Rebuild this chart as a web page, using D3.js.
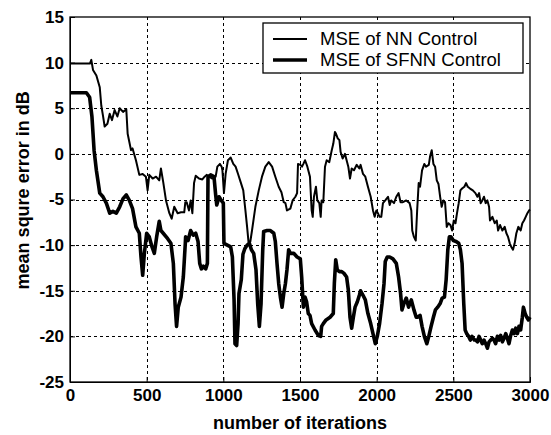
<!DOCTYPE html>
<html>
<head>
<meta charset="utf-8">
<script src="https://cdn.jsdelivr.net/npm/d3@7"></script>
<style>
  body { margin: 0; background: #fff; }
  text { font-family: "Liberation Sans", Arial, sans-serif; }
</style>
</head>
<body>
<svg width="551" height="435"></svg>
<script>
// values
var xTicks = [0, 500, 1000, 1500, 2000, 2500, 3000];
var yTicks = [-25, -20, -15, -10, -5, 0, 5, 10, 15];
var seriesNames = ['MSE of NN Control', 'MSE of SFNN Control'];

var nnIter = [0, 130, 139, 150, 172, 194, 204, 215, 226, 244, 259, 274, 291, 309, 324, 346, 367,
  376, 398, 408, 430, 452, 474, 495, 506, 517, 539, 561, 582, 593, 608, 626, 648, 663, 680, 702, 724, 745,
  752, 761, 776, 787, 798, 809, 820, 841, 863, 878, 891, 907, 928, 950, 961, 978, 989, 994, 1004, 1015, 1030, 1048, 1065, 1080, 1096, 1113, 1130,
  1144, 1155, 1165, 1176, 1187, 1209, 1231, 1252, 1274, 1296, 1318, 1339, 1361, 1379, 1394, 1405, 1415, 1437, 1452, 1470, 1481, 1487, 1502, 1513,
  1522, 1533, 1548, 1565, 1576, 1583, 1591, 1604, 1613, 1626, 1635, 1641, 1652, 1663, 1674, 1691, 1707, 1717, 1728, 1735, 1746, 1757, 1765, 1778, 1793, 1804, 1815, 1826, 1837, 1852, 1870, 1887,
  1895, 1911, 1926, 1943, 1961, 1976, 1987, 1998, 2008, 2019, 2030, 2041, 2056, 2074, 2085, 2095, 2113, 2128, 2143, 2156, 2171, 2193, 2215, 2226, 2232, 2243, 2255,
  2264, 2274, 2283, 2296, 2311, 2322, 2340, 2348, 2359, 2370, 2381, 2392, 2403, 2414, 2424, 2435, 2446, 2457, 2468, 2481, 2492, 2503, 2514, 2524, 2535, 2546, 2557, 2572, 2583, 2594, 2609, 2627, 2644,
  2657, 2668, 2678, 2689, 2700, 2711, 2722, 2733, 2739, 2755, 2770, 2783, 2792, 2805, 2820, 2835, 2846, 2857, 2868, 2878, 2889, 2900, 2911, 2924, 2939, 2950, 2961, 2972, 2983, 2994, 3000];
var nnMse = [9.9, 9.9, 10.3, 9.2, 8.6, 7.3, 5.3, 4.2, 3.0, 3.3, 4.4, 3.7, 4.8, 4.1, 5.0, 4.6, 4.9,
  2.2, 0.4, 0.6, -0.7, -2.3, -2.2, -2.5, -4.0, -2.3, -2.7, -2.5, -2.9, -1.6, -3.1, -5.1, -6.5, -7.1, -5.8, -6.5, -6.4, -6.4,
  -5.3, -5.3, -6.2, -5.1, -6.5, -3.2, -2.4, -2.7, -2.8, -2.5, -2.3, -2.5, -2.7, -2.5, -1.4, -1.1, -1.4, -1.8, -4.3, -2.2, -0.7, -0.4, -1.1, -1.4, -2.2, -3.1, -4.0,
  -6.2, -8.0, -9.8, -9.6, -8.4, -5.8, -4.0, -2.5, -1.4, -0.9, -1.4, -2.5, -3.6, -4.2, -5.3, -5.4, -6.2, -6.0, -5.1, -4.7, -4.3, -1.1, -1.2, -1.4,
  -1.1, -0.7, -1.4, -2.5, -6.2, -6.9, -4.7, -3.6, -5.1, -5.4, -6.9, -5.1, -5.3, -1.4, -0.7, -0.9, 0.4, 1.1, 2.4, 2.2, 1.7, 1.5, 0.2, -0.5, 0.0, -0.7, -1.4, -2.7, -1.6, -1.8, -1.2, -1.6,
  -1.2, -2.2, -2.5, -3.6, -4.7, -6.2, -6.9, -6.2, -6.5, -6.9, -6.9, -5.4, -5.1, -4.7, -5.6, -5.1, -5.4, -4.7, -4.3, -5.3, -5.3, -5.1, -5.4, -6.2, -8.4, -9.1, -9.5,
  -6.2, -3.2, -3.6, -1.8, -1.1, -1.4, -1.2, -0.3, 0.4, -1.1, -1.4, -2.9, -3.3, -4.7, -5.8, -5.1, -5.3, -8.0, -7.6, -7.8, -8.4, -7.3, -7.6, -6.5, -5.4, -4.0, -3.8, -3.6, -3.2, -3.6, -3.8, -4.0, -4.3,
  -4.7, -4.3, -5.4, -5.1, -4.7, -5.4, -5.1, -5.8, -7.3, -6.9, -7.6, -7.3, -8.4, -7.8, -8.4, -8.0, -8.7, -9.1, -9.8, -10.2, -10.5, -9.8, -8.7, -8.0, -8.4, -7.6, -7.3, -6.9, -6.5, -6.2, -6.1];

var sfnnIter = [0, 107, 128, 143, 157, 172, 194, 215, 237, 259, 280, 302, 324, 346, 367,
  387, 408, 430, 452, 463, 474, 485, 500, 517, 535, 550, 565, 582, 593, 608, 637, 658, 674, 685, 695, 706, 724, 739, 752,
  754, 770, 787, 804, 820, 835, 846, 857, 870, 885, 896, 900, 917, 939, 950, 957, 972, 987, 1000, 1004, 1026, 1048, 1059, 1070, 1076, 1087, 1096, 1102, 1117, 1128,
  1140, 1155, 1170, 1183, 1198, 1213, 1224, 1235, 1246, 1257, 1263, 1285, 1307, 1329, 1339, 1350, 1361, 1372, 1383, 1394, 1405, 1415, 1426, 1437, 1459, 1481, 1502,
  1511, 1522, 1533, 1543, 1554, 1565, 1576, 1598, 1620, 1635, 1641, 1652, 1670, 1696, 1717, 1724, 1733, 1743, 1757, 1772, 1787, 1804, 1815, 1826, 1837, 1848, 1859, 1874, 1887,
  1895, 1911, 1926, 1943, 1961, 1976, 1991, 2004, 2019, 2035, 2048, 2056, 2069, 2085, 2106, 2128, 2143, 2156, 2165, 2178, 2193, 2208, 2226, 2243, 2258,
  2268, 2283, 2296, 2311, 2327, 2340, 2355, 2370, 2383, 2398, 2414, 2427, 2442, 2453, 2464, 2474, 2485, 2500, 2518, 2535, 2546, 2557, 2568, 2577, 2587, 2600, 2611, 2622, 2637,
  2646, 2657, 2668, 2678, 2689, 2700, 2711, 2722, 2733, 2744, 2755, 2765, 2776, 2787, 2798, 2809, 2820, 2831, 2842, 2852, 2863, 2874, 2885, 2896, 2907, 2918, 2928, 2939, 2950, 2957, 2968, 2979, 2990, 3000];
var sfnnMse = [6.7, 6.7, 6.2, 4.1, 0.4, -1.8, -4.3, -4.7, -5.4, -6.5, -6.3, -6.5, -5.8, -4.9, -4.5,
  -5.1, -6.0, -8.0, -8.7, -11.3, -13.3, -10.9, -8.7, -9.1, -10.2, -10.9, -9.1, -7.4, -8.4, -8.7, -9.3, -9.8, -12.0, -16.4, -18.9, -16.8, -15.7, -13.5, -9.8,
  -9.1, -9.5, -8.4, -8.9, -8.7, -9.6, -12.0, -12.6, -12.3, -12.6, -12.0, -2.5, -2.3, -2.5, -4.5, -5.6, -4.7, -5.1, -5.4, -9.8, -10.0, -10.2, -11.3, -16.0, -20.8, -21.0, -18.6, -15.3, -13.8, -11.0,
  -10.4, -10.0, -9.8, -10.5, -10.9, -12.7, -16.4, -18.9, -16.4, -10.5, -8.5, -8.4, -8.4, -8.7, -9.6, -12.0, -14.2, -15.7, -16.8, -15.3, -14.2, -12.7, -10.5, -10.9, -10.9, -11.3, -11.5,
  -13.5, -16.8, -15.7, -16.2, -17.5, -17.7, -18.6, -19.3, -19.9, -20.0, -18.9, -18.6, -18.2, -17.9, -17.5, -14.2, -11.6, -12.7, -12.9, -12.9, -13.1, -13.5, -14.9, -17.9, -19.1, -17.9, -16.8, -16.2, -15.5,
  -15.0, -15.5, -16.0, -17.5, -18.6, -19.7, -20.8, -20.0, -18.6, -16.4, -14.2, -11.8, -11.3, -11.3, -11.5, -12.0, -13.5, -15.3, -17.1, -16.4, -15.8, -16.8, -16.0, -17.1, -17.9,
  -17.9, -17.7, -18.9, -20.0, -20.8, -20.0, -18.9, -17.9, -17.1, -16.8, -16.4, -15.8, -15.7, -13.8, -10.5, -9.1, -9.1, -9.5, -9.6, -9.8, -10.5, -12.0, -16.4, -19.3, -19.7, -20.0, -20.4, -20.0, -20.4,
  -20.4, -20.6, -20.0, -20.4, -20.8, -20.4, -20.8, -21.3, -20.6, -20.4, -20.2, -20.4, -20.8, -20.0, -20.4, -19.9, -20.6, -20.2, -19.7, -20.2, -20.8, -19.9, -19.3, -19.7, -19.1, -19.7, -18.9, -19.3, -17.9, -16.8, -17.5, -17.9, -18.2, -17.9];

var svg = d3.select('svg');

var margin = { top: 17, right: 21, bottom: 53, left: 70 };
var width = 551 - margin.left - margin.right;
var height = 435 - margin.top - margin.bottom;

var x = d3.scaleLinear().domain([0, 3000]).range([margin.left, margin.left + width]);
var y = d3.scaleLinear().domain([-25, 15]).range([margin.top + height, margin.top]);

// plain hyphen for negatives, like the original figure
var fmt = d => String(d);

// dashed grid
var grid = svg.append('g')
  .attr('stroke', '#000')
  .attr('stroke-width', 1)
  .attr('stroke-dasharray', '3,3');

grid.selectAll('.gx')
  .data(xTicks.slice(1, -1))
  .enter().append('line')
  .attr('x1', d => Math.round(x(d)) + 0.5).attr('x2', d => Math.round(x(d)) + 0.5)
  .attr('y1', y(15)).attr('y2', y(-25));

grid.selectAll('.gy')
  .data(yTicks.slice(1, -1))
  .enter().append('line')
  .attr('y1', d => Math.round(y(d)) + 0.5).attr('y2', d => Math.round(y(d)) + 0.5)
  .attr('x1', x(0)).attr('x2', x(3000));

// axes
var xAxis = g => g
  .attr('transform', 'translate(0,' + (margin.top + height) + ')')
  .call(d3.axisBottom(x).tickValues(xTicks).tickSize(-5).tickPadding(7).tickFormat(fmt))
  .call(g => g.selectAll('text').attr('font-size', 17).attr('font-weight', 'bold').attr('fill', '#000'));

var yAxis = g => g
  .attr('transform', 'translate(' + margin.left + ',0)')
  .call(d3.axisLeft(y).tickValues(yTicks).tickSize(-5).tickPadding(6).tickFormat(fmt))
  .call(g => g.selectAll('text').attr('font-size', 17).attr('font-weight', 'bold').attr('fill', '#000'));

svg.append('g').call(xAxis);
svg.append('g').call(yAxis);

// frame
svg.append('rect')
  .attr('x', x(0)).attr('y', y(15))
  .attr('width', width).attr('height', height)
  .attr('fill', 'none').attr('stroke', '#000').attr('stroke-width', 1.3);

// lines
var line = d3.line()
  .x(d => x(d[0]))
  .y(d => y(d[1]));

var nnData = nnIter.map((d, i) => [d, nnMse[i]]);
var sfnnData = sfnnIter.map((d, i) => [d, sfnnMse[i]]);

svg.append('path')
  .datum(sfnnData)
  .attr('fill', 'none')
  .attr('stroke', '#000')
  .attr('stroke-width', 3.6)
  .attr('stroke-linejoin', 'round')
  .attr('d', line);

svg.append('path')
  .datum(nnData)
  .attr('fill', 'none')
  .attr('stroke', '#000')
  .attr('stroke-width', 2)
  .attr('stroke-linejoin', 'round')
  .attr('d', line);

// legend
var legend = svg.append('g').attr('transform', 'translate(263,23)');
legend.append('rect')
  .attr('width', 260).attr('height', 50)
  .attr('fill', '#fff').attr('stroke', '#000').attr('stroke-width', 1.3);

var widths = [2, 3.6];
seriesNames.forEach(function(name, i) {
  var yy = 16 + i * 21;
  legend.append('line')
    .attr('x1', 10).attr('x2', 44).attr('y1', yy).attr('y2', yy)
    .attr('stroke', '#000').attr('stroke-width', widths[i]);
  legend.append('text')
    .attr('x', 57).attr('y', yy + 6)
    .attr('font-size', 18.5)
    .text(name);
});

// axis titles
svg.append('text')
  .attr('x', x(1500)).attr('y', 429)
  .attr('text-anchor', 'middle')
  .attr('font-size', 18).attr('font-weight', 'bold')
  .text('number of iterations');

svg.append('text')
  .attr('transform', 'translate(29,' + y(-4) + ') rotate(-90)')
  .attr('text-anchor', 'middle')
  .attr('font-size', 18).attr('font-weight', 'bold')
  .text('mean squre error in dB');
</script>
</body>
</html>
